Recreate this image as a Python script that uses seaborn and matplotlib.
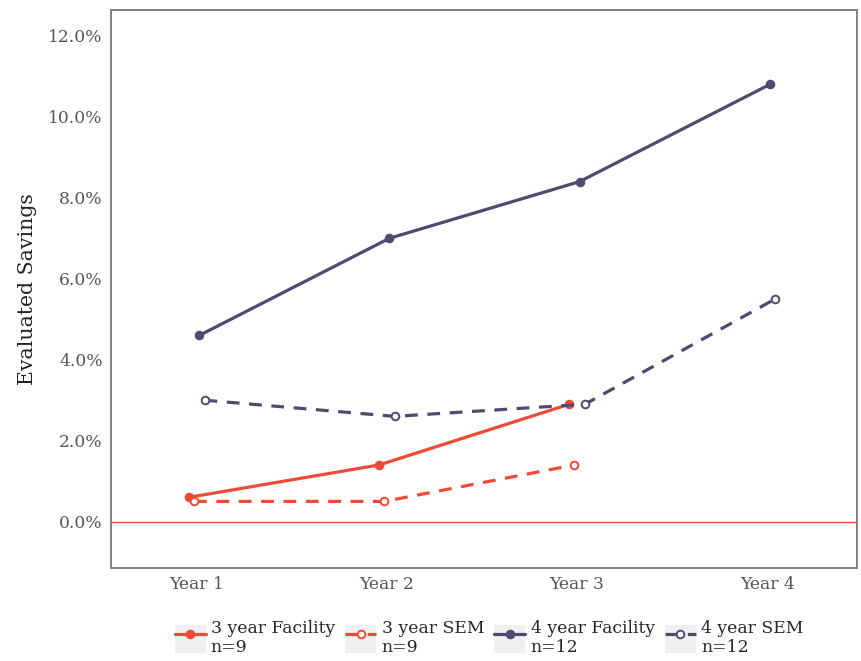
import numpy as np
import pandas as pd
import matplotlib
matplotlib.use("Agg")
import matplotlib.pyplot as plt
from matplotlib.legend_handler import HandlerLine2D
from matplotlib.patches import Rectangle
from matplotlib.ticker import FuncFormatter
import seaborn as sns

# data
years = ["Year 1", "Year 2", "Year 3", "Year 4"]
fac3 = [0.6, 1.4, 2.9]
sem3 = [0.5, 0.5, 1.4]
fac4 = [4.6, 7.0, 8.4, 10.8]
sem4 = [3.0, 2.6, 2.9, 5.5]
series_names = ["3 year Facility\nn=9", "3 year SEM\nn=9",
                "4 year Facility\nn=12", "4 year SEM\nn=12"]

red = "#ef4a35"
purple = "#4f4a70"

rows = []
for k, (name, vals) in enumerate(zip(series_names, [fac3, sem3, fac4, sem4])):
    for i, v in enumerate(vals):
        rows.append({"series": name, "year": i, "value": v, "grp": k})
df = pd.DataFrame(rows)

# dodge the groups a little like position_dodge
dodge_w = 0.11
df["xpos"] = df["year"] + 1 + (df["grp"] - 1.5) * dodge_w / 4

sns.set_theme(style="white")
plt.rcParams["font.family"] = ["DejaVu Serif"]

fig = plt.figure(figsize=(8.61, 6.61), dpi=100)
ax = fig.add_axes([0.129, 0.141, 0.866, 0.844])

styles = {
    series_names[0]: dict(color=red, ls="-", mfc=red),
    series_names[1]: dict(color=red, ls=(0, (4, 3)), mfc="white"),
    series_names[2]: dict(color=purple, ls="-", mfc=purple),
    series_names[3]: dict(color=purple, ls=(0, (4, 3)), mfc="white"),
}

ax.axhline(0, color=red, lw=1.0, zorder=1)

handles = []
for name in series_names:
    st = styles[name]
    sub = df[df["series"] == name]
    sns.lineplot(data=sub, x="xpos", y="value", ax=ax, color=st["color"],
                 linestyle=st["ls"], linewidth=2.3, marker="o", markersize=5.5,
                 markerfacecolor=st["mfc"], markeredgecolor=st["color"],
                 markeredgewidth=1.4, zorder=3)
    h = plt.Line2D([], [], color=st["color"], linestyle=st["ls"], linewidth=2.3,
                   marker="o", markersize=5.5, markerfacecolor=st["mfc"],
                   markeredgecolor=st["color"], markeredgewidth=1.4)
    handles.append(h)

ax.set_xlim(0.55, 4.47)
ax.set_ylim(-1.14, 12.64)
ax.set_xticks([1, 2, 3, 4])
ax.set_xticklabels(years)
ax.set_yticks(np.arange(0, 13, 2))
ax.yaxis.set_major_formatter(FuncFormatter(lambda v, p: f"{v:.1f}%"))
ax.tick_params(axis="both", length=0, labelsize=12.3, labelcolor="#555555", pad=6)
ax.set_xlabel("")
ax.set_ylabel("Evaluated Savings", fontsize=14.7, color="#222222", labelpad=8)

for sp in ax.spines.values():
    sp.set_visible(True)
    sp.set_color("#808080")
    sp.set_linewidth(1.4)
ax.grid(False)


class KeyHandler(HandlerLine2D):
    def create_artists(self, legend, orig_handle, xdescent, ydescent,
                       width, height, fontsize, trans):
        rect = Rectangle((-xdescent, -ydescent), width, height,
                         facecolor="#f0f0f0", edgecolor="none", transform=trans)
        arts = super().create_artists(legend, orig_handle, xdescent, ydescent,
                                      width, height, fontsize, trans)
        return [rect] + list(arts)


fig.legend(handles, series_names, loc="center", bbox_to_anchor=(0.568, 0.035),
           ncol=4, frameon=False, fontsize=12.4, handlelength=1.8, handleheight=2.2,
           handletextpad=0.3, columnspacing=0.6,
           handler_map={plt.Line2D: KeyHandler()})

fig.savefig("out.png", dpi=100)
